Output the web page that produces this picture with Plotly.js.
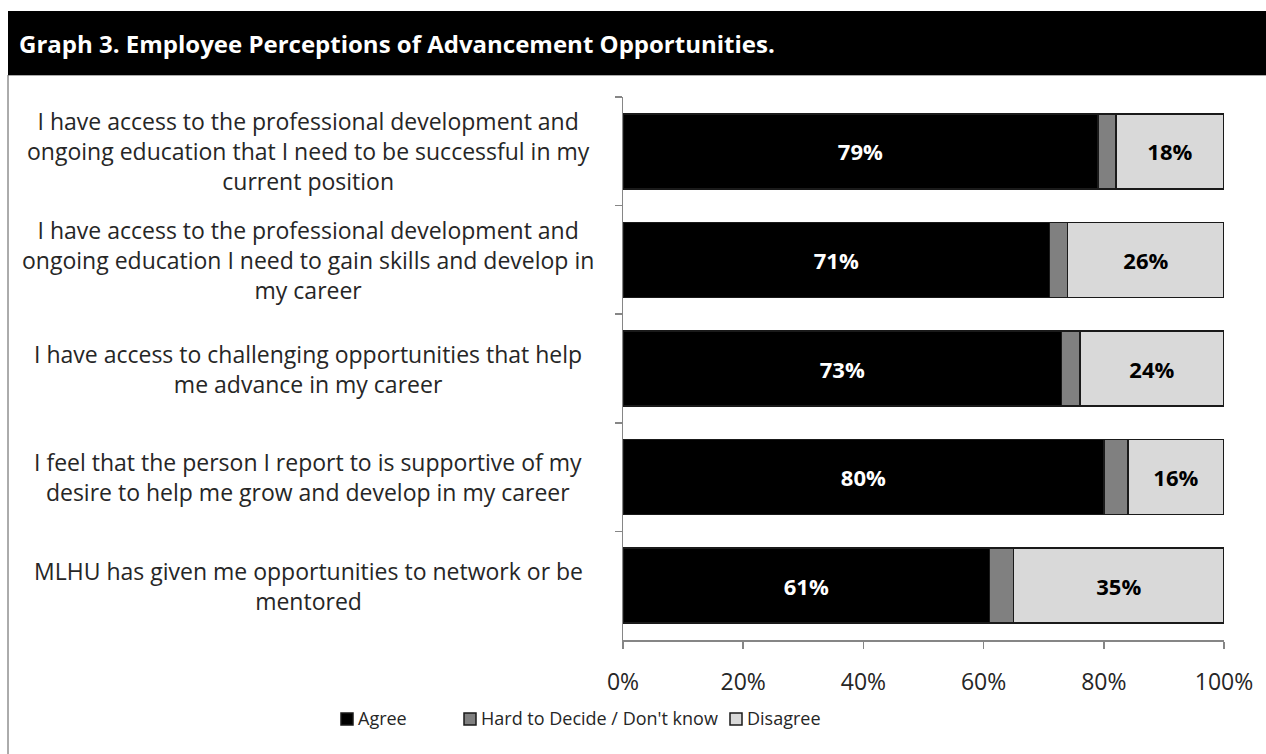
<!DOCTYPE html>
<html>
<head>
<meta charset="utf-8">
<script src="https://cdn.plot.ly/plotly-3.0.1.min.js"></script>
<style>
  html, body { margin: 0; padding: 0; background: #ffffff; }
  #chart { width: 1266px; height: 754px; }
</style>
</head>
<body>
<div id="chart"></div>
<script>
// Survey statements (top to bottom)
const statements = [
  "I have access to the professional development and<br>ongoing education that I need to be successful in my<br>current position",
  "I have access to the professional development and<br>ongoing education I need to gain skills and develop in<br>my career",
  "I have access to challenging opportunities that help<br>me advance in my career",
  "I feel that the person I report to is supportive of my<br>desire to help me grow and develop in my career",
  "MLHU has given me opportunities to network or be<br>mentored"
];
const categories = ["Q1", "Q2", "Q3", "Q4", "Q5"];

// Response shares, percent
const agree     = [79, 71, 73, 80, 61];
const hard      = [3, 3, 3, 4, 4];
const disagree  = [18, 26, 24, 16, 35];

const seriesNames = ["Agree", "Hard to Decide / Don't know", "Disagree"];
const seriesColors = ["#000000", "#808080", "#d9d9d9"];

const W = 1266, H = 754;
const M = { l: 623, r: 42, t: 97, b: 114 };
const pw = W - M.l - M.r, ph = H - M.t - M.b;
// pixel -> paper helpers
const px = x => (x - M.l) / pw;
const py = y => 1 - (y - M.t) / ph;

const FONT = "Open Sans, Noto Sans, sans-serif";
const TEXT = "#262626";

const barLine = { color: "#1a1a1a", width: 1.5 };

const traces = [
  {
    type: "bar", orientation: "h", name: seriesNames[0],
    y: categories, x: agree,
    marker: { color: seriesColors[0], line: barLine },
    text: agree.map(v => v + "%"), textposition: "inside",
    insidetextanchor: "middle", constraintext: "none",
    textfont: { color: "#ffffff", size: 22, family: FONT, weight: "bold" },
    hoverinfo: "skip"
  },
  {
    type: "bar", orientation: "h", name: seriesNames[1],
    y: categories, x: hard,
    marker: { color: seriesColors[1], line: barLine },
    textposition: "none",
    hoverinfo: "skip"
  },
  {
    type: "bar", orientation: "h", name: seriesNames[2],
    y: categories, x: disagree,
    marker: { color: seriesColors[2], line: barLine },
    text: disagree.map(v => v + "%"), textposition: "inside",
    insidetextanchor: "middle", constraintext: "none",
    textfont: { color: "#000000", size: 22, family: FONT, weight: "bold" },
    hoverinfo: "skip"
  }
];

// Statement labels, centered multi-line text left of the axis
const annotations = statements.map((s, i) => ({
  xref: "paper", yref: "y",
  x: px(308), y: categories[i],
  xanchor: "center", yanchor: "middle",
  text: s, align: "center", showarrow: false,
  font: { family: FONT, size: 23, color: TEXT }
}));

// Header text
annotations.push({
  xref: "paper", yref: "paper",
  x: px(17), y: py(43),
  xanchor: "left", yanchor: "middle",
  text: "<b>Graph 3. Employee Perceptions of Advancement Opportunities.</b>",
  showarrow: false,
  font: { family: FONT, size: 24, color: "#ffffff" }
});

const shapes = [
  // outer frame
  {
    type: "rect", xref: "paper", yref: "paper", layer: "below",
    x0: px(8), x1: px(1290), y0: py(780), y1: py(75),
    line: { color: "#595959", width: 1 }, fillcolor: "rgba(0,0,0,0)"
  },
  // header band
  {
    type: "rect", xref: "paper", yref: "paper", layer: "below",
    x0: px(8), x1: px(1290), y0: py(75), y1: py(11),
    line: { width: 0 }, fillcolor: "#000000"
  }
];

// Legend row: a swatch followed by its series name
const legendY = 718;
const legendSwatchX = [341, 464, 730];
const SW = 12;
seriesNames.forEach((name, i) => {
  const x0 = legendSwatchX[i];
  shapes.push({
    type: "rect", xref: "paper", yref: "paper",
    x0: px(x0), x1: px(x0 + SW),
    y0: py(legendY + SW / 2 + 1), y1: py(legendY - SW / 2 + 1),
    line: { color: "#1a1a1a", width: 1.5 }, fillcolor: seriesColors[i]
  });
  annotations.push({
    xref: "paper", yref: "paper",
    x: px(x0 + SW + 3), y: py(legendY),
    xanchor: "left", yanchor: "middle",
    text: name, showarrow: false,
    font: { family: FONT, size: 18, color: TEXT }
  });
});

const layout = {
  width: W, height: H,
  margin: M,
  paper_bgcolor: "#ffffff", plot_bgcolor: "#ffffff",
  barmode: "stack",
  bargap: 0.31,
  font: { family: FONT, size: 18, color: TEXT },
  showlegend: false,
  xaxis: {
    range: [0, 100], dtick: 20, tick0: 0,
    ticksuffix: "%",
    showgrid: false, zeroline: false,
    showline: true, linecolor: "#868686", linewidth: 1.5,
    ticks: "outside", ticklen: 7, tickcolor: "#868686", tickwidth: 1.5,
    ticklabelstandoff: 14,
    tickfont: { family: FONT, size: 23, color: TEXT },
    fixedrange: true
  },
  yaxis: {
    type: "category",
    autorange: "reversed",
    showgrid: false, zeroline: false,
    showline: true, linecolor: "#868686", linewidth: 1.5,
    ticks: "outside", ticklen: 7, tickcolor: "#868686", tickwidth: 1.5,
    tickson: "boundaries",
    showticklabels: false,
    fixedrange: true
  },
  annotations: annotations,
  shapes: shapes
};

Plotly.newPlot("chart", traces, layout, { displayModeBar: false, staticPlot: true });
</script>
</body>
</html>
